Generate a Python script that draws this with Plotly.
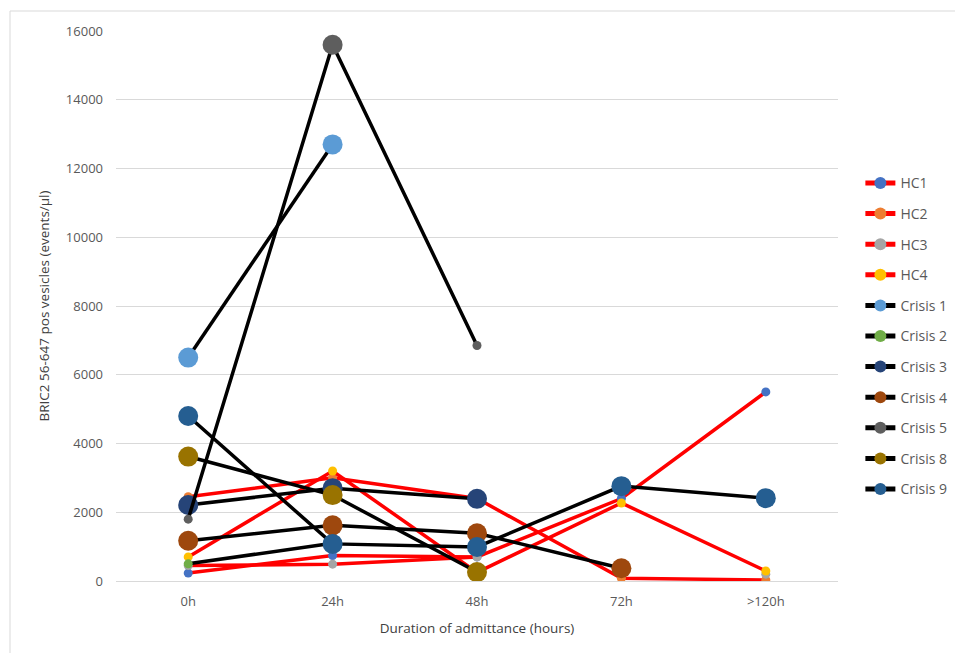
import plotly.graph_objects as go

# Sampling time points
categories = ["0h", "24h", "48h", "72h", ">120h"]

# Healthy controls (events/µl)
hc1 = [230, 740, 700, 2400, 5500]
hc2 = [2450, 3000, 2400, 80, 30]
hc3 = [450, 490, 700, None, 200]
hc4 = [700, 3200, 250, 2270, 290]

# Crisis patients (events/µl)
crisis1 = [6500, 12700, None, None, None]
crisis2 = [500, 1100, None, None, None]
crisis3 = [2210, 2700, 2390, None, None]
crisis4 = [1170, 1620, 1390, 370, None]
crisis5 = [1800, 15600, 6850, None, None]
crisis8 = [3620, 2500, 260, None, None]
crisis9 = [4800, 1080, 990, 2760, 2410]

y_ticks = [0, 2000, 4000, 6000, 8000, 10000, 12000, 14000, 16000]

FONT = "Open Sans"
HC_LINE = "#FF0000"
CRISIS_LINE = "#000000"
SMALL = 9
BIG = 20

series = [
    ("HC1", hc1, HC_LINE, "#4472C4", SMALL),
    ("HC2", hc2, HC_LINE, "#ED7D31", SMALL),
    ("HC3", hc3, HC_LINE, "#A5A5A5", SMALL),
    ("HC4", hc4, HC_LINE, "#FFC000", SMALL),
    ("Crisis 1", crisis1, CRISIS_LINE, "#5B9BD5", BIG),
    ("Crisis 2", crisis2, CRISIS_LINE, "#70AD47", SMALL),
    ("Crisis 3", crisis3, CRISIS_LINE, "#264478", BIG),
    ("Crisis 4", crisis4, CRISIS_LINE, "#9E480E", BIG),
    ("Crisis 5", crisis5, CRISIS_LINE, "#5E5E5E", [SMALL, BIG, SMALL, SMALL, SMALL]),
    ("Crisis 8", crisis8, CRISIS_LINE, "#997300", BIG),
    ("Crisis 9", crisis9, CRISIS_LINE, "#255E91", BIG),
]

fig = go.Figure()
for name, vals, lc, mc, ms in series:
    fig.add_trace(go.Scatter(
        x=categories, y=vals, name=name, mode="lines+markers",
        legendgroup=name,
        line=dict(color=lc, width=3.5),
        marker=dict(color=mc, size=ms, opacity=1, line=dict(width=0)),
        connectgaps=False,
    ))

fig.update_layout(
    width=955, height=653,
    margin=dict(l=116, r=117, t=31, b=72, autoexpand=False),
    paper_bgcolor="white", plot_bgcolor="white",
    font=dict(family=FONT, size=13, color="#595959"),
    showlegend=True,
    legend=dict(
        x=1.031, y=0.752, xanchor="left", yanchor="top",
        font=dict(family=FONT, size=14, color="#595959"),
        itemsizing="constant", tracegroupgap=9.4,
        bgcolor="rgba(0,0,0,0)",
    ),
    xaxis=dict(
        type="category", categoryorder="array", categoryarray=categories,
        range=[-0.5, 4.5],
        showgrid=False, zeroline=False,
        showline=False, ticks="",
        ticklabelstandoff=11,
        title=dict(text="Duration of admittance (hours)",
                   font=dict(family=FONT, size=13.5, color="#404040"), standoff=14),
    ),
    yaxis=dict(
        range=[0, 16000], tickvals=y_ticks, tickformat="d",
        showgrid=True, gridcolor="#D9D9D9", gridwidth=1,
        zeroline=True, zerolinecolor="#D9D9D9", zerolinewidth=1,
        showline=False, ticks="", ticklabelstandoff=12,
        title=dict(text="BRIC2 56-647 pos vesicles (events/µl)",
                   font=dict(family=FONT, size=13.5, color="#404040"), standoff=13),
    ),
    shapes=[dict(
        type="rect", xref="paper", yref="paper",
        x0=(10 - 116) / 722, x1=(962 - 116) / 722,
        y0=(581 - 662) / 550, y1=(581 - 11) / 550,
        line=dict(color="#D9D9D9", width=1), layer="below",
    )],
)

fig.write_html("out.html")
